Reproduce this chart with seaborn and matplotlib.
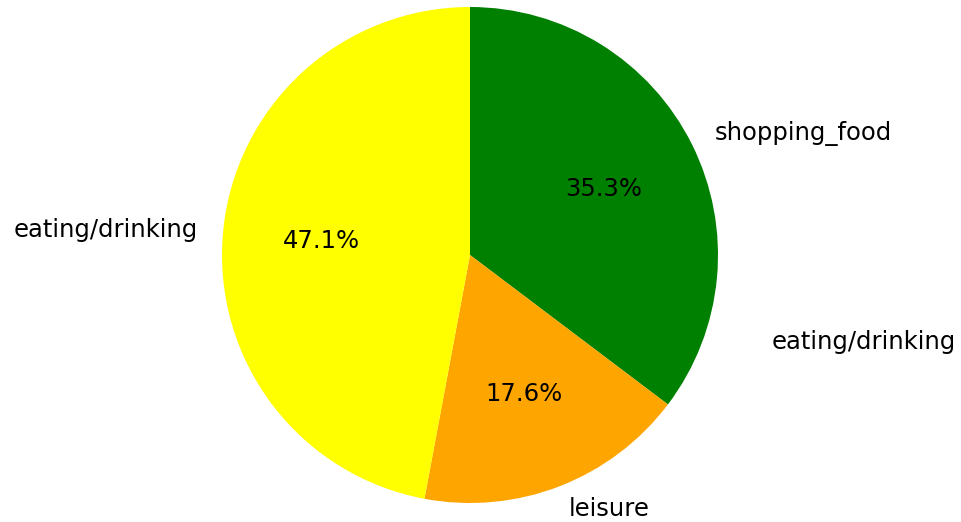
import numpy as np
import matplotlib
matplotlib.use('Agg')
import matplotlib.pyplot as plt
import seaborn as sns

# data
labels = ['shopping_food', 'leisure', 'eating/drinking']
counts = [6, 3, 8]
colors = ['green', 'orange', 'yellow']
extra_label = 'eating/drinking'

sns.set_style('white')
plt.rcParams['font.family'] = ['DejaVu Sans']
plt.rcParams['text.color'] = 'black'

fig = plt.figure(figsize=(9.61, 5.22), dpi=100)
ax = fig.add_axes([0, 0, 1, 1])

ax.pie(counts, labels=labels, colors=colors, autopct='%1.1f%%',
       startangle=90, counterclock=False,
       wedgeprops={'linewidth': 0, 'edgecolor': 'none'},
       textprops={'fontsize': 17.5, 'color': 'black'})

# stray label drawn to the right of the pie
ax.text(1.218, -0.351, extra_label, ha='left', va='center',
        fontsize=17.5, color='black')

# place pie: center at (470, 255) px, radius 248 px
px = 248.0
ax.set_xlim(-470 / px, (961 - 470) / px)
ax.set_ylim(-(522 - 255) / px, 255 / px)
ax.axis('off')

fig.savefig('out.png', dpi=100)
